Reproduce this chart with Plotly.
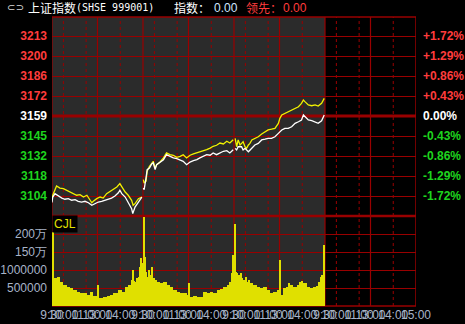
import numpy as np
import plotly.graph_objects as go

# ---------------- data ----------------
BASE = 3158.8      # previous close of the index
STEP = 13.6        # one grid row in index points (~0.43 %)

price_tick_labels = ["3213", "3200", "3186", "3172", "3159", "3145", "3132", "3118", "3104"]
pct_tick_labels = ["+1.72%", "+1.29%", "+0.86%", "+0.43%", "0.00%", "-0.43%", "-0.86%", "-1.29%", "-1.72%"]
vol_tick_vals = [50, 100, 150, 200]            # in 万 shares
vol_tick_labels = ["500000", "1000000", "150万", "200万"]
time_labels = ["9:30", "10:00", "11:00", "13:00", "14:00"]
time_label_minutes = [0, 30, 90, 120, 180]
close_label = "15:00"

# index (white) — minutes counted from day-1 09:30, 240 trading minutes per day
idx_day1_min = [0, 2, 8, 17, 26, 34, 43, 52, 61, 69, 78, 87, 96, 105, 113, 122, 131, 140, 148, 157, 166, 175, 179, 184, 193, 201, 210, 213, 219, 228, 237]
idx_day1_val = [3100.0, 3103.7, 3106.0, 3104.4, 3103.0, 3102.2, 3102.6, 3101.5, 3101.9, 3100.8, 3100.3, 3100.8, 3099.8, 3098.1, 3099.2, 3100.3, 3100.8, 3101.5, 3102.6, 3103.0, 3104.4, 3106.6, 3108.3, 3106.0, 3103.7, 3100.3, 3095.8, 3092.4, 3096.9, 3100.3, 3103.7]
lead_day1_min = [0, 2, 12, 21, 30, 39, 47, 56, 65, 74, 83, 92, 100, 105, 109, 118, 127, 135, 144, 153, 162, 171, 179, 184, 193, 201, 210, 214, 219, 228, 237]
lead_day1_val = [3102.0, 3104.9, 3111.2, 3109.8, 3109.4, 3108.3, 3107.1, 3106.0, 3104.9, 3105.3, 3103.7, 3104.9, 3101.5, 3099.8, 3100.8, 3102.6, 3103.7, 3103.0, 3106.0, 3107.6, 3109.4, 3110.5, 3112.8, 3110.5, 3107.1, 3104.9, 3101.5, 3098.1, 3099.2, 3102.6, 3103.7]

day2_min = [241, 243, 248, 251, 257, 263, 267, 272, 276, 285, 294, 302, 311, 320, 329, 338, 346, 355, 364, 373, 382, 390, 399, 408, 417, 425, 434, 443, 452, 461, 469, 478]
lead_day2_val = [3115.5, 3113.2, 3114.4, 3121.2, 3124.6, 3126.9, 3128.0, 3123.4, 3125.7, 3127.5, 3130.3, 3133.7, 3132.5, 3132.1, 3130.7, 3131.4, 3132.5, 3130.3, 3132.1, 3133.0, 3133.7, 3134.3, 3134.8, 3135.9, 3137.0, 3138.2, 3138.9, 3140.4, 3139.8, 3141.6, 3140.4, 3142.7]
idx_day2_val = [3109.8, 3108.7, 3116.7, 3122.3, 3123.4, 3126.2, 3126.9, 3122.3, 3125.7, 3127.5, 3129.1, 3132.5, 3131.4, 3130.3, 3129.8, 3129.1, 3128.0, 3125.7, 3127.5, 3128.4, 3129.1, 3130.3, 3131.4, 3132.5, 3132.1, 3133.7, 3132.5, 3133.7, 3134.8, 3135.2, 3133.7, 3135.9]

lead_day3_min = [483, 487, 491, 496, 500, 504, 509, 513, 518, 522, 527, 535, 544, 553, 562, 570, 579, 588, 597, 601, 606, 614, 623, 632, 641, 650, 658, 663, 667, 676, 685, 694, 702, 711, 718]
lead_day3_val = [3143.6, 3137.9, 3142.5, 3139.1, 3140.2, 3141.3, 3137.9, 3136.8, 3139.1, 3140.2, 3142.5, 3143.6, 3144.7, 3146.6, 3148.1, 3149.3, 3149.8, 3150.4, 3153.8, 3157.2, 3159.5, 3160.6, 3161.7, 3162.9, 3164.0, 3165.1, 3167.4, 3169.7, 3168.6, 3166.3, 3165.8, 3166.3, 3165.6, 3167.4, 3170.8]
idx_day3_min = [483, 487, 491, 500, 504, 509, 518, 527, 535, 544, 553, 562, 570, 579, 588, 597, 606, 614, 623, 632, 641, 650, 658, 663, 667, 676, 685, 694, 702, 711, 718]
idx_day3_val = [3136.8, 3135.7, 3137.9, 3137.9, 3135.7, 3136.8, 3134.5, 3136.8, 3139.1, 3140.2, 3142.5, 3143.0, 3143.6, 3143.6, 3144.7, 3147.0, 3149.3, 3150.4, 3150.4, 3151.5, 3153.8, 3154.9, 3156.1, 3159.5, 3158.3, 3156.1, 3155.6, 3154.9, 3153.8, 3155.6, 3159.5]

# volume (万 shares), bar starts at the given minute
vol_minute = [0, 3, 12, 21, 30, 39, 47, 56, 65, 74, 83, 91, 100, 109, 118,
              120, 123, 128, 135, 144, 153, 162, 175, 184, 193, 201, 210, 213, 216, 219, 223, 228, 232, 234, 236,
              240, 243, 246, 250, 254, 258, 263, 267, 272, 276, 285, 294, 302, 311, 320, 329, 338, 346, 355,
              360, 363, 373, 382, 390, 398, 408, 417, 425, 434, 443, 452, 461, 469, 474, 476,
              480, 483, 487, 491, 496, 500, 504, 509, 513, 518, 522, 531, 540, 549, 557, 566, 575, 584, 593,
              600, 603, 610, 619, 623, 628, 636, 645, 654, 658, 663, 672, 680, 689, 698, 702, 707, 711, 715, 717]
vol_value = [206, 77, 81, 68, 58, 54, 49, 44, 40, 35, 35, 31, 40, 28, 26,
             58, 21, 22, 24, 28, 31, 35, 44, 40, 54, 58, 72, 100, 70, 68, 77, 81, 109, 132, 120,
             248, 137, 95, 81, 100, 86, 109, 77, 72, 68, 63, 68, 58, 54, 45, 40, 37, 35, 31,
             65, 24, 28, 24, 26, 38, 36, 40, 37, 44, 48, 52, 58, 68, 91, 142,
             228, 95, 91, 86, 91, 77, 72, 81, 68, 72, 63, 58, 54, 49, 54, 44, 35, 40, 44,
             128, 31, 49, 54, 63, 58, 52, 58, 68, 70, 63, 54, 49, 52, 56, 68, 81, 86, 106, 169]
DATA_END = 720      # three trading days with data
AXIS_END = 960      # four trading days on the axis

# ---------------- colours ----------------
GRID = "#990000"
GREY = "#2b2b2b"
RED_T = "#ff3c3c"
GREEN_T = "#1ed41e"
AXIS_T = "#a8b4c8"
YELLOW = "#f2f200"
VOL_Y = "#e0e000"

W, H = 465, 324
ML, MR, MT, MB = 52, 49, 17, 18
PW, PH = W - ML - MR, H - MT - MB
split = 90 / PH


def join_days(parts):
    xs, ys = [], []
    for mx, vy in parts:
        xs += list(mx) + [None]
        ys += list(vy) + [None]
    return xs, ys


idx_x, idx_y = join_days([(idx_day1_min, idx_day1_val), (day2_min, idx_day2_val), (idx_day3_min, idx_day3_val)])
lead_x, lead_y = join_days([(lead_day1_min, lead_day1_val), (day2_min, lead_day2_val), (lead_day3_min, lead_day3_val)])

vm = np.array(vol_minute, dtype=float)
vol_width = np.diff(np.append(vm, DATA_END))

fig = go.Figure()
fig.add_trace(go.Bar(x=vm, y=vol_value, width=vol_width, offset=0, marker=dict(color=VOL_Y, line=dict(width=0)),
                     xaxis="x", yaxis="y3", showlegend=False, hoverinfo="skip"))
fig.add_trace(go.Scatter(x=lead_x, y=lead_y, mode="lines", line=dict(color=YELLOW, width=1.3),
                         connectgaps=False, showlegend=False, hoverinfo="skip"))
fig.add_trace(go.Scatter(x=idx_x, y=idx_y, mode="lines", line=dict(color="#ffffff", width=1.3),
                         connectgaps=False, showlegend=False, hoverinfo="skip"))
fig.add_trace(go.Scatter(x=[0], y=[0], yaxis="y2", mode="markers", marker=dict(opacity=0),
                         showlegend=False, hoverinfo="skip"))

ks = list(range(4, -5, -1))
price_ticks = [BASE + k * STEP for k in ks]
pct_ticks = [k * STEP / BASE * 100 for k in ks]


def col(k):
    return RED_T if k > 0 else ("#ffffff" if k == 0 else GREEN_T)


price_text = [f"<span style='color:{col(k)}'>{t}</span>" for k, t in zip(ks, price_tick_labels)]
pct_text = [f"<span style='color:{col(k)}'>{t}</span>" for k, t in zip(ks, pct_tick_labels)]

p_top = BASE + 99 / 20 * STEP
p_bot = BASE - 100 / 20 * STEP

x_vals, x_text = [], []
for d in range(4):
    for m, t in zip(time_label_minutes, time_labels):
        x_vals.append(d * 240 + m)
        x_text.append(t)
x_vals.append(AXIS_END)
x_text.append(close_label)

shapes = [dict(type="rect", xref="x", yref="paper", x0=0, x1=DATA_END, y0=0, y1=1,
               fillcolor=GREY, line=dict(width=0), layer="below")]
for d in range(4):
    for off in (30, 90, 180):
        shapes.append(dict(type="line", xref="x", yref="paper", x0=d * 240 + off, x1=d * 240 + off, y0=0, y1=1,
                           line=dict(color=GRID, width=1, dash="3px,3px"), layer="below"))
    for off in (0, 120):
        shapes.append(dict(type="line", xref="x", yref="paper", x0=d * 240 + off, x1=d * 240 + off, y0=0, y1=1,
                           line=dict(color=GRID, width=1.2), layer="below"))
shapes.append(dict(type="line", xref="x", yref="paper", x0=AXIS_END, x1=AXIS_END, y0=0, y1=1,
                   line=dict(color=GRID, width=1.5), layer="below"))
shapes.append(dict(type="line", xref="paper", yref="y", x0=0, x1=1, y0=BASE, y1=BASE,
                   line=dict(color=GRID, width=3), layer="below"))
shapes.append(dict(type="line", xref="paper", yref="paper", x0=0, x1=1, y0=split, y1=split,
                   line=dict(color=GRID, width=2.5), layer="below"))
shapes.append(dict(type="line", xref="paper", yref="paper", x0=0, x1=1, y0=1, y1=1,
                   line=dict(color=GRID, width=1.5), layer="below"))
shapes.append(dict(type="line", xref="paper", yref="paper", x0=0, x1=1, y0=0, y1=0,
                   line=dict(color=GRID, width=1.5), layer="below"))


def px(xp):
    return (xp - ML) / PW


def py(yp):
    return (H - MB - yp) / PH


CJK = "Noto Sans CJK SC"
ann = []
hy = py(8)
ann.append(dict(text="⊂⊃", x=px(5), y=hy, font=dict(family="DejaVu Sans", size=10, color="#d8d8d8")))
ann.append(dict(text="上证指数", x=px(26), y=hy, font=dict(family=CJK, size=12, color="#ffffff")))
ann.append(dict(text="(SHSE 999001)", x=px(74), y=hy, font=dict(family="DejaVu Sans Mono", size=10, color="#ffffff")))
ann.append(dict(text="指数：", x=px(172), y=hy, font=dict(family=CJK, size=12, color="#ffffff")))
ann.append(dict(text="0.00", x=px(212), y=hy, font=dict(family="Liberation Sans", size=12, color="#cfe6ff")))
ann.append(dict(text="领先：", x=px(244), y=hy, font=dict(family=CJK, size=12, color=RED_T)))
ann.append(dict(text="0.00", x=px(281), y=hy, font=dict(family="Liberation Sans", size=12, color=RED_T)))
ann.append(dict(text="CJL", x=px(52), y=py(223.5), bgcolor="#000000", borderpad=1,
                font=dict(family="Liberation Sans", size=12, color=VOL_Y)))
for a in ann:
    a.update(xref="paper", yref="paper", xanchor="left", yanchor="middle", showarrow=False)

tick_font_b = dict(family="Liberation Sans", size=12, weight="bold")
fig.update_layout(
    width=W, height=H, margin=dict(l=ML, r=MR, t=MT, b=MB, pad=0),
    paper_bgcolor="#000000", plot_bgcolor="#000000",
    showlegend=False, bargap=0, shapes=shapes, annotations=ann,
    xaxis=dict(range=[0, AXIS_END], anchor="y3", tickmode="array", tickvals=x_vals, ticktext=x_text,
               tickangle=0, showgrid=False, zeroline=False, showline=False, ticks="",
               tickfont=dict(family="Liberation Sans", size=12, color=AXIS_T), ticklabeloverflow="allow",
               automargin=False, fixedrange=True),
    yaxis=dict(domain=[split, 1], range=[p_bot, p_top], tickmode="array", tickvals=price_ticks, ticktext=price_text,
               showgrid=True, gridcolor=GRID, gridwidth=1, zeroline=False, showline=False, ticks="",
               tickfont=tick_font_b, ticklabelstandoff=4, ticklabeloverflow="allow", automargin=False),
    yaxis2=dict(overlaying="y", side="right", anchor="x",
                range=[(p_bot / BASE - 1) * 100, (p_top / BASE - 1) * 100],
                tickmode="array", tickvals=pct_ticks, ticktext=pct_text, showgrid=False, zeroline=False,
                showline=False, ticks="", tickfont=tick_font_b, ticklabelstandoff=6,
                ticklabeloverflow="allow", automargin=False),
    yaxis3=dict(domain=[0, split], range=[0, 250], tickmode="array", tickvals=vol_tick_vals,
                ticktext=vol_tick_labels, showgrid=True, gridcolor=GRID, gridwidth=1, zeroline=False,
                showline=False, ticks="", tickfont=dict(family="Liberation Sans", size=12, color=AXIS_T),
                ticklabelstandoff=4, ticklabeloverflow="allow", automargin=False, anchor="x"),
)

fig.write_html("out.html")
